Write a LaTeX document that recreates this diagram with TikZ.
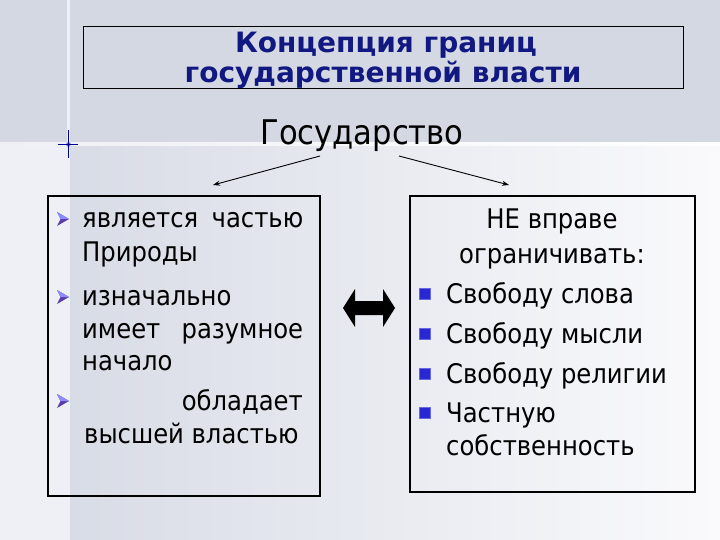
\documentclass[tikz,border=0pt]{standalone}
\usepackage{fontspec}
\setmainfont{DejaVu Sans Condensed}
\newfontfamily\titlefont{DejaVu Sans}
\usetikzlibrary{arrows.meta}
\definecolor{bgtop}{RGB}{212,216,226}
\definecolor{bgleft}{RGB}{216,220,230}
\definecolor{bgright}{RGB}{250,250,252}
\definecolor{stripe}{RGB}{238,240,245}
\definecolor{titleblue}{RGB}{18,24,130}
\definecolor{bulletblue}{RGB}{40,40,210}
\definecolor{bulletpurple}{RGB}{90,60,170}
\tikzset{
  bodytext/.style={font=\fontsize{27}{33}\selectfont, inner sep=0pt, anchor=base west, text=black},
  bodycenter/.style={font=\fontsize{27}{33}\selectfont, inner sep=0pt, anchor=base, text=black},
  titletext/.style={font=\titlefont\bfseries\fontsize{28}{30}\selectfont, text=titleblue, inner sep=0pt, anchor=base},
  framebox/.style={draw=black, line width=1.4pt},
  thinarrow/.style={draw=black, line width=0.9pt, -{Stealth[length=7pt,width=5pt]}},
  sqbullet/.style={fill=bulletblue, draw=bulletblue!70!white, line width=0.6pt, minimum size=11pt, inner sep=0pt},
}
\begin{document}
\begin{tikzpicture}[x=1pt,y=-1pt]
\useasboundingbox (0,0) rectangle (720,540);
% background
\fill[bgtop] (0,0) rectangle (720,144);
\shade[left color=bgleft, right color=bgright] (68,144) rectangle (720,540);
\fill[stripe] (0,144) rectangle (68,540);
\shade[left color=stripe, right color=white] (0,142.5) rectangle (720,146);
\fill[stripe] (66.5,0) rectangle (69.5,540);
% sparkle
\shade[inner color=blue!70!black, outer color=stripe] (68,144) ellipse (3pt and 3pt);
\draw[blue!60!black, line width=0.8pt] (58,144) -- (78,144) (68,130) -- (68,158);

% title
\node[draw=black, line width=0.8pt, minimum width=600pt, minimum height=62pt, inner sep=0pt] (titlebox) at (383,57) {};
\node[titletext] (t1) at (386,53) {Концепция границ};
\node[titletext] (t2) at (383,83) {государственной власти};

% state
\node[font=\fontsize{34}{40}\selectfont, inner sep=0pt, anchor=base] (state) at (362,145) {Государство};
\coordinate (sl) at (320,156);
\coordinate (sr) at (399,156);
\coordinate (el) at (213,185);
\coordinate (er) at (509,185);
\draw[thinarrow] (sl) -- (el);
\draw[thinarrow] (sr) -- (er);

% boxes
\node[framebox, minimum width=272pt, minimum height=300pt, inner sep=0pt] (lbox) at (184,346) {};
\node[framebox, minimum width=285pt, minimum height=296pt, inner sep=0pt] (rbox) at (552.5,344) {};

% left bullets
\foreach \yy/\nm in {219/b1,297/b2,401/b3}{
  \fill[bulletpurple] (57,\yy-7) -- (69,\yy) -- (57,\yy+7) -- (60.5,\yy) -- cycle;
  \fill[blue!45!white] (57,\yy-7) -- (69,\yy) -- (60.5,\yy) -- cycle;
}
\node[bodytext] (l1) at (82,228) {\hbox to 221pt{является\hfill частью}};
\node[bodytext] (l2) at (82,261) {Природы};
\node[bodytext] (l3) at (82,305) {изначально};
\node[bodytext] (l4) at (82,338) {\hbox to 221pt{имеет\hfill разумное}};
\node[bodytext] (l5) at (82,370) {начало};
\node[bodytext, anchor=base east] (l6) at (303,410) {обладает};
\node[bodytext] (l7) at (84,443) {высшей властью};

% double arrow
\fill[black] (343,308) -- (355,289) -- (355,301) -- (383,301) -- (383,289) -- (395,308)
  -- (383,327) -- (383,315) -- (355,315) -- (355,327) -- cycle;

% right box text
\node[bodycenter] (r1) at (552,229) {НЕ вправе};
\node[bodycenter] (r2) at (552,263) {ограничивать:};
\foreach \yy in {294,334,374,413}{
  \node[sqbullet] at (425,\yy) {};
}
\node[bodytext] (r3) at (446,303) {Свободу слова};
\node[bodytext] (r4) at (446,343) {Свободу мысли};
\node[bodytext] (r5) at (446,383) {Свободу религии};
\node[bodytext] (r6) at (446,422) {Частную};
\node[bodytext] (r7) at (446,455) {собственность};
\end{tikzpicture}
\end{document}
